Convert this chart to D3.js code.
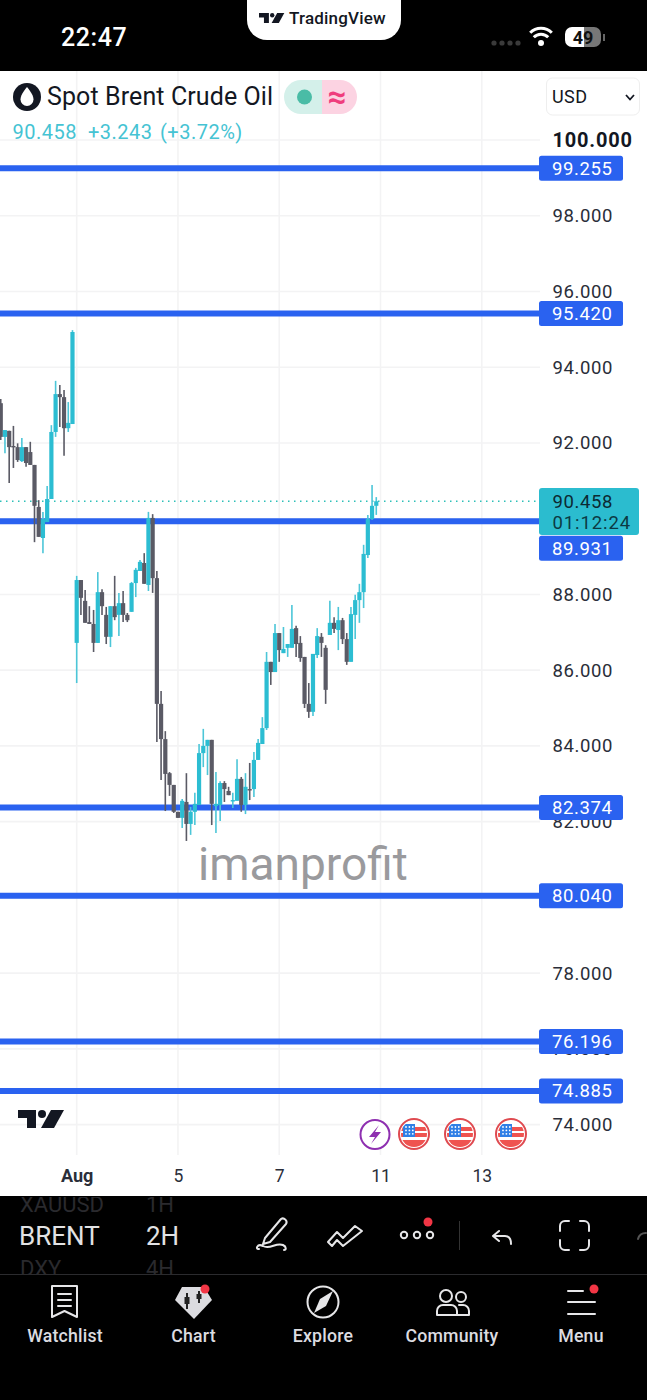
<!DOCTYPE html>
<html><head><meta charset="utf-8">
<script src="https://cdn.jsdelivr.net/npm/d3@7"></script>
<style>html,body{margin:0;padding:0;background:#fff}svg{display:block}text{font-family:Roboto,sans-serif}</style>
</head><body><svg id="c" width="647" height="1400"></svg>
<script>
const opens=[93.05,92.16,92.32,91.92,91.89,91.52,91.89,91.76,91.42,90.31,89.49,89.91,90.52,92.29,93.29,93.21,92.39,92.50,86.72,88.38,87.83,87.27,87.22,86.72,88.06,87.46,86.88,87.69,87.46,87.77,87.46,87.54,88.30,88.62,88.83,88.25,90.02,88.43,85.11,84.18,83.28,82.97,82.26,82.10,82.52,81.94,82.26,82.44,83.81,84.00,84.16,82.41,82.44,83.02,82.81,82.55,82.55,83.13,82.44,82.86,82.86,83.63,84.05,84.47,86.22,85.95,86.98,86.45,86.59,86.59,87.11,86.72,86.35,85.11,84.90,86.40,86.88,86.59,86.93,87.25,87.06,87.32,86.82,86.22,87.46,87.85,88.06,89.04,89.99,90.34];
const highs=[93.16,92.34,92.32,92.45,91.99,92.13,91.89,92.03,91.42,90.49,90.18,90.86,92.47,93.64,93.53,93.40,93.08,94.98,88.49,88.38,88.12,87.69,87.59,88.59,88.14,87.67,87.69,88.49,88.04,88.09,87.51,88.33,88.70,88.91,89.09,90.18,90.12,88.62,85.45,84.39,83.31,82.97,82.26,82.60,83.28,82.39,82.76,84.05,84.45,84.16,84.16,83.31,83.07,83.07,82.92,82.76,83.65,83.18,83.28,83.55,83.84,84.18,84.76,86.48,86.22,87.22,86.98,87.14,86.69,87.72,87.17,86.90,86.35,85.66,86.43,87.11,86.98,86.66,87.83,87.40,87.67,87.38,86.98,87.67,87.99,88.28,89.31,90.10,90.89,90.57];
const lows=[92.08,91.73,90.94,91.34,91.50,91.50,91.37,91.42,89.38,89.52,89.09,89.91,90.52,92.16,92.42,91.66,92.29,92.50,85.66,87.46,87.25,87.22,86.48,86.72,87.46,86.69,86.61,87.32,86.90,87.27,87.27,87.54,87.93,88.62,88.28,88.09,88.04,84.10,83.10,82.28,82.68,82.23,82.10,81.83,81.49,81.65,81.91,82.44,83.44,83.23,81.91,81.70,82.02,82.52,82.70,82.36,82.55,82.26,82.20,82.57,82.65,83.63,84.05,84.42,85.61,85.95,86.22,86.45,86.35,86.59,86.35,86.22,85.00,84.74,84.79,86.32,86.35,85.11,86.93,86.98,86.53,86.69,86.14,86.22,86.82,87.25,87.64,88.96,89.97,90.10];
const closes=[92.16,92.34,91.89,91.89,91.55,91.89,91.47,91.42,90.34,89.52,89.99,90.52,92.29,93.29,93.21,92.39,92.53,94.93,88.38,87.91,87.25,87.22,86.72,88.06,87.69,86.88,87.69,87.40,87.77,87.46,87.32,88.30,88.65,88.86,88.28,90.02,88.43,85.11,84.18,83.26,82.97,82.26,82.10,82.55,81.94,82.26,82.47,83.81,84.00,84.16,82.47,82.47,83.02,82.86,82.70,82.57,83.13,82.44,82.92,82.84,83.63,84.08,84.47,86.22,85.95,86.98,86.53,86.56,86.69,87.09,86.69,86.32,85.11,84.90,86.43,86.90,86.72,85.48,87.25,87.09,87.32,86.82,86.22,87.48,87.85,88.06,89.07,89.99,90.34,90.46];
const priceTicks=[100,98,96,94,92,90,88,86,84,82,80,78,76,74];
const levels=[99.255,95.42,89.931,82.374,80.04,76.196,74.885];
const lastPrice=90.458;
const dateTickBars=[18,42,66,90,114];
const dateTickLabels=["Aug","5","7","11","13"];
const navLabels=["Watchlist","Chart","Explore","Community","Menu"];

const UP="#2cbdd2",DOWN="#5a5a65",BLUE="#2a62f0";
const svg=d3.select("#c");
const y=d3.scaleLinear().domain([100,74]).range([140,1124.6]);
const x=d3.scaleLinear().domain([18,90]).range([76.7,380.5]);
const fmt=d3.format(".3f");
const T=(s,px,py,size,fill,o={})=>svg.append("text").attr("x",px).attr("y",py).attr("font-size",size).attr("fill",fill)
  .attr("font-weight",o.w||400).attr("text-anchor",o.a||"start").attr("font-family",o.f||"Roboto,sans-serif").attr("letter-spacing",o.ls||0).text(s);

// grid
const grid=svg.append("g").attr("stroke","#f3f3f4").attr("stroke-width",1.6);
grid.selectAll(".v").data(dateTickBars).join("line").attr("x1",d=>x(d)).attr("x2",d=>x(d)).attr("y1",71).attr("y2",1155);
grid.selectAll(".h").data(priceTicks).join("line").attr("x1",0).attr("x2",540).attr("y1",d=>y(d)).attr("y2",d=>y(d));

// axes
const ax=d3.axisRight(y).tickValues(priceTicks).tickSize(0).tickPadding(0).tickFormat(fmt);
const gy=svg.append("g").attr("transform","translate(552.5,0)").call(ax);
gy.select(".domain").remove();
gy.selectAll("text").attr("text-anchor","start").attr("font-family","Roboto,sans-serif")
  .attr("font-size",d=>d===100?20:18.5).attr("letter-spacing",d=>d===100?.8:.6)
  .attr("font-weight",d=>d===100?700:400).attr("fill",d=>d===100?"#131722":"#2a2e39");
const xs=d3.scaleOrdinal().domain(dateTickBars).range(dateTickLabels);
const gx=svg.append("g").attr("transform","translate(0,1176)").call(d3.axisBottom(x).tickValues(dateTickBars).tickSize(0).tickPadding(0).tickFormat(d=>xs(d)));
gx.select(".domain").remove();
gx.selectAll("text").attr("dy","0.34em").attr("y",0).attr("font-size",d=>d===18?18:17.5).attr("fill","#2a2e39").attr("font-family","Roboto,sans-serif").attr("font-weight",d=>d===18?700:400);

// level lines
svg.append("g").selectAll("line").data(levels).join("line").attr("x1",0).attr("x2",540).attr("y1",d=>y(d)).attr("y2",d=>y(d)).attr("stroke",BLUE).attr("stroke-width",6);
svg.append("line").attr("x1",0).attr("x2",538).attr("y1",y(lastPrice)).attr("y2",y(lastPrice)).attr("stroke","#2cc0b8").attr("stroke-width",1.5).attr("stroke-dasharray","1.5 4.5");

// candles
const bars=opens.map((o,i)=>({i,o,h:highs[i],l:lows[i],c:closes[i]}));
const g=svg.append("g");
g.selectAll(".w").data(bars).join("line").attr("x1",d=>x(d.i)).attr("x2",d=>x(d.i)).attr("y1",d=>y(d.h)).attr("y2",d=>y(d.l))
  .attr("stroke",d=>d.c>=d.o?"#4cc6d8":DOWN).attr("stroke-width",1.6);
g.selectAll(".b").data(bars).join("rect").attr("x",d=>x(d.i)-2.1).attr("width",4.2)
  .attr("y",d=>y(Math.max(d.o,d.c))).attr("height",d=>Math.max(1.4,y(Math.min(d.o,d.c))-y(Math.max(d.o,d.c))))
  .attr("fill",d=>d.c>=d.o?UP:DOWN);

// watermark
T("imanprofit",198,880,46,"#9a9a9d");

// level labels
const lab=svg.append("g").selectAll("g").data(levels).join("g").attr("transform",d=>`translate(539,${y(d)-(d===89.931?-14.5:12.5)})`);
lab.append("rect").attr("width",84).attr("height",25).attr("rx",2.5).attr("fill",BLUE);
lab.append("text").attr("x",13).attr("y",18.8).attr("font-size",18.5).attr("letter-spacing",.6).attr("fill","#fff").text(d=>fmt(d));
svg.append("rect").attr("x",539).attr("y",488).attr("width",100).attr("height",47).attr("rx",3).attr("fill","#2bbccf");
T(fmt(lastPrice),552.5,508,18.5,"#0c2a33",{ls:.6});
T("01:12:24",552.5,529,18.5,"#0c3a44",{ls:.9});

// header
svg.append("circle").attr("cx",27).attr("cy",97).attr("r",14).attr("fill","#131722");
svg.append("path").attr("d","M27 87C23 92 20.500 96 20.500 99.500A6.500 6.500 0 0 0 33.500 99.500C33.500 96 31 92 27 87Z").attr("fill","#fff");
T("Spot Brent Crude Oil",47,105,25,"#131722",{ls:.1});
svg.append("path").attr("d","M322 80H301A17 17 0 0 0 301 114H322Z").attr("fill","#d4f0ea");
svg.append("path").attr("d","M322 80H340A17 17 0 0 1 340 114H322Z").attr("fill","#fcd3e2");
svg.append("circle").attr("cx",304.500).attr("cy",97).attr("r",7.500).attr("fill","#4abca6");
T("≈",337,108,33,"#ef3d7d",{a:"middle",w:700,f:"DejaVu Sans"});
svg.append("rect").attr("x",546.500).attr("y",78).attr("width",93).attr("height",37).attr("rx",6).attr("fill","#fff").attr("stroke","#eeeeee");
T("USD",552,103,18,"#131722",{ls:.4});
svg.append("path").attr("d","M626 95L630 99.500L634 95").attr("fill","none").attr("stroke","#131722").attr("stroke-width",1.8);
T("90.458",12.500,139,20,"#45c3d3",{ls:.5});
T("+3.243",88,139,20,"#45c3d3",{ls:.5});
T("(+3.72%)",160,139,20,"#45c3d3",{ls:.5});

// status bar
svg.append("rect").attr("width",647).attr("height",71).attr("fill","#000");
svg.append("path").attr("d","M247 0H401V20A20 20 0 0 1 381 40H267A20 20 0 0 1 247 20Z").attr("fill","#fff");
const logo=(s,tx,ty,col)=>{const l=svg.append("g").attr("transform",`translate(${tx},${ty}) scale(${s})`).attr("fill",col);
 l.append("path").attr("d","M0 0H18V18H9V8H0Z");l.append("circle").attr("cx",24).attr("cy",4).attr("r",4);l.append("path").attr("d","M33 0H46L36 18H23Z");};
logo(.55,259,13,"#131722");
T("TradingView",289,24,17,"#131722",{ls:.2,w:500});
T("22:47",61,46,25,"#fff",{w:500,ls:.6});
svg.append("g").selectAll("circle").data([0,1,2,3]).join("circle").attr("cx",d=>494+d*8).attr("cy",43).attr("r",2.6).attr("fill","#3a3a3a");
[[15,"#fff"],[10,"#fff"]].forEach(([r,c])=>svg.append("path").attr("d",`M${541-r*.72} ${46-r*.88}A${r} ${r} 0 0 1 ${541+r*.72} ${46-r*.88}`).attr("fill","none").attr("stroke",c).attr("stroke-width",3));
svg.append("circle").attr("cx",541).attr("cy",43).attr("r",3).attr("fill","#fff");
svg.append("path").attr("d","M572 27H584V47H572A7 7 0 0 1 565 40V34A7 7 0 0 1 572 27Z").attr("fill","#fff");
svg.append("path").attr("d","M584 27H594A7 7 0 0 1 601 34V40A7 7 0 0 1 594 47H584Z").attr("fill","#777");
svg.append("rect").attr("x",603).attr("y",34).attr("width",2).attr("height",7).attr("fill","#666");
T("49",583,43.500,18,"#111",{a:"middle",w:700});

// tv logo
logo(1,18,1110,"#131722");

// event icons
const ev=svg.append("g");
ev.append("circle").attr("cx",375).attr("cy",1134.500).attr("r",14.500).attr("fill","#fff").attr("stroke","#8e2fb0").attr("stroke-width",2);
ev.append("path").attr("d","M379 1125L369 1137H375L371 1144L381 1132H375Z").attr("fill","#8e2fb0");
[414,460,511].forEach(cx=>{const f=svg.append("g");
 const id="f"+cx;
 f.append("clipPath").attr("id",id).append("circle").attr("cx",cx).attr("cy",1134).attr("r",13);
 f.append("circle").attr("cx",cx).attr("cy",1134).attr("r",15).attr("fill","#fff").attr("stroke","#df4a50").attr("stroke-width",2);
 const c=f.append("g").attr("clip-path",`url(#${id})`);
 c.append("rect").attr("x",cx-14).attr("y",1127).attr("width",28).attr("height",4).attr("fill","#ef5350");
 c.append("rect").attr("x",cx-14).attr("y",1133).attr("width",28).attr("height",4).attr("fill","#ef5350");
 c.append("rect").attr("x",cx-14).attr("y",1140).attr("width",28).attr("height",9).attr("fill","#ef5350");
 c.append("rect").attr("x",cx-11).attr("y",1124).attr("width",12).attr("height",13).attr("fill","#2f7fe6");
 d3.range(3).forEach(r=>d3.range(3).forEach(k=>c.append("circle").attr("cx",cx-8+k*3.4).attr("cy",1127+r*3.4).attr("r",.9).attr("fill","#fff")));
});

// bottom bar
svg.append("rect").attr("y",1196).attr("width",647).attr("height",204).attr("fill","#000");
const tb=svg.append("g");
tb.append("clipPath").attr("id","tc").append("rect").attr("x",0).attr("y",1197).attr("width",114).attr("height",77);
tb.append("clipPath").attr("id","tc2").append("rect").attr("x",130).attr("y",1197).attr("width",60).attr("height",77);
[["XAUUSD",20,1212,"tc"],["DXY",20,1276,"tc"],["1H",146,1212,"tc2"],["4H",146,1276,"tc2"]].forEach(([s,a,b,c])=>
 T(s,a,b,22,"#2a2a2e").attr("clip-path",`url(#${c})`));
T("BRENT",19,1245,26,"#e2e2e4");
T("2H",146,1245,26,"#e2e2e4");
svg.append("line").attr("x1",0).attr("x2",647).attr("y1",1274.500).attr("y2",1274.500).attr("stroke","#2b2b2e");
svg.append("line").attr("x1",459.500).attr("x2",459.500).attr("y1",1221).attr("y2",1250).attr("stroke","#333");
const ic=svg.append("g").attr("fill","none").attr("stroke","#e6e6e8").attr("stroke-width",2).attr("stroke-linecap","round").attr("stroke-linejoin","round");
ic.append("path").attr("d","M265 1238L281 1219C284 1217 288 1221 286 1224L270 1242L263 1244ZM259 1249C255 1250 257 1243 263 1246C270 1250 276 1242 283 1245C287 1247 286 1250 284 1250");
ic.append("path").attr("d","M328 1242L337 1232L343 1238L355 1226L362 1231L343 1246L337 1240L332 1246Z");
svg.append("g").selectAll("circle").data([404,417,430]).join("circle").attr("cx",d=>d).attr("cy",1235).attr("r",3.2).attr("fill","none").attr("stroke","#e6e6e8").attr("stroke-width",2);
ic.append("path").attr("d","M499 1231L493 1236L499 1241M493 1236H505C510 1236 511 1240 511 1244");
ic.append("path").attr("d","M560 1231V1226A5 5 0 0 1 565 1221H569M580 1221H584A5 5 0 0 1 589 1226V1231M589 1240V1245A5 5 0 0 1 584 1250H580M569 1250H565A5 5 0 0 1 560 1245V1240");
ic.append("path").attr("d","M638 1239C639 1235 642 1233 646 1233").attr("stroke","#555");
// nav icons
ic.append("path").attr("d","M52 1286H77V1317L64.500 1311L52 1317ZM58 1294H71M58 1300H71M58 1306H71");
svg.append("path").attr("d","M182 1287H204L212 1300L194 1319L175 1300Z").attr("fill","#dcdce0");
svg.append("g").attr("stroke","#222").attr("stroke-width",2).call(s=>{s.append("line").attr("x1",187).attr("x2",187).attr("y1",1293).attr("y2",1309);s.append("line").attr("x1",199).attr("x2",199).attr("y1",1291).attr("y2",1303);});
svg.append("rect").attr("x",184.500).attr("y",1297).attr("width",5).attr("height",7).attr("fill","#222");
svg.append("rect").attr("x",196.500).attr("y",1294).attr("width",5).attr("height",5).attr("fill","#222");
ic.append("circle").attr("cx",323).attr("cy",1302).attr("r",15.500);
svg.append("path").attr("d","M333 1291L326 1306L314 1313L320 1299Z").attr("fill","#e6e6e8");
ic.append("circle").attr("cx",446).attr("cy",1296).attr("r",6);
ic.append("circle").attr("cx",461).attr("cy",1297).attr("r",5);
ic.append("path").attr("d","M437 1315V1311A6 6 0 0 1 443 1305H451A6 6 0 0 1 457 1311V1315ZM459 1305H463A6 6 0 0 1 469 1311V1315H457");
ic.append("path").attr("d","M568 1291H583M568 1302H595M568 1314H595");
svg.append("g").attr("fill","#f23645").selectAll("circle").data([[428,1222],[205,1289],[594,1289]]).join("circle").attr("cx",d=>d[0]).attr("cy",d=>d[1]).attr("r",4.500);
svg.append("g").selectAll("text").data(navLabels).join("text").attr("x",(d,i)=>[65,193.500,323,452,581][i]).attr("y",1342).attr("text-anchor","middle")
 .attr("font-size",17.700).attr("font-weight",500).attr("letter-spacing",.2).attr("fill","#dcdce0").text(d=>d);
</script></body></html>
